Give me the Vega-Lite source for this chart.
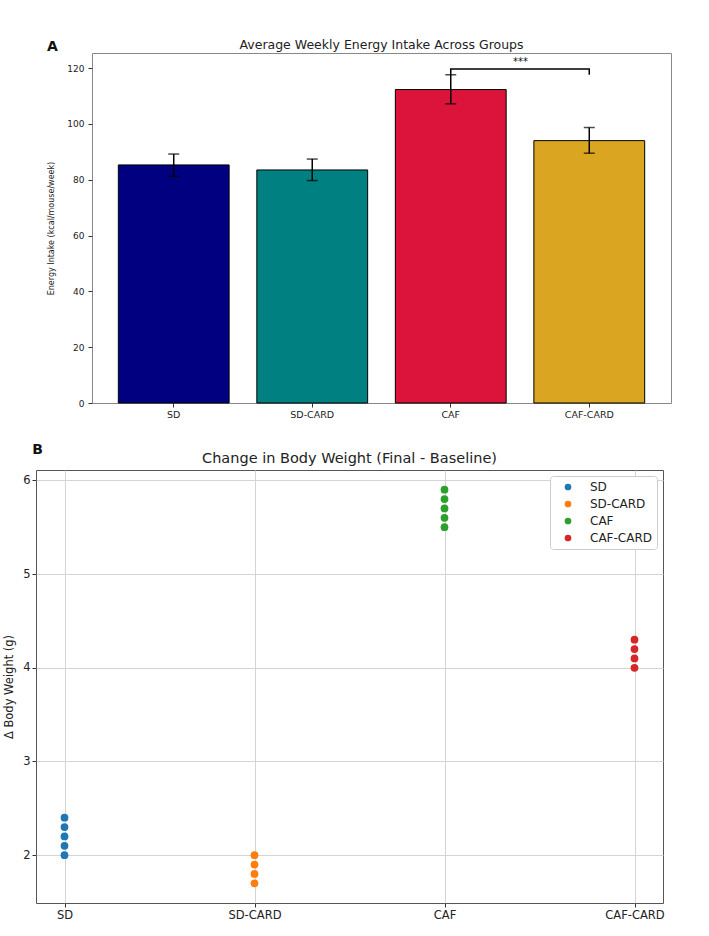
{
  "$schema": "https://vega.github.io/schema/vega-lite/v6.json",
  "background": "white",
  "padding": {"left": 3, "top": 38, "right": 10, "bottom": 10},
  "spacing": 24,
  "columns": 1,
  "align": "none",
  "resolve": {"scale": {"color": "independent"}, "legend": {"color": "independent"}},
  "config": {
    "font": "DejaVu Sans",
    "view": {"stroke": "#555", "strokeWidth": 1},
    "axis": {"domain": false, "tickColor": "#333", "tickSize": 4, "labelColor": "#222", "titleColor": "#222", "titleFontWeight": "normal", "gridColor": "#d4d4d4", "gridWidth": 1, "labelPadding": 2},
    "title": {"color": "#222", "fontWeight": "normal"}
  },
  "concat": [
    {
      "title": {"text": "A", "anchor": "start", "fontSize": 14, "fontWeight": "bold", "color": "#111", "dx": 11, "dy": 16, "offset": 0},
      "resolve": {"scale": {"color": "independent"}, "legend": {"color": "independent"}},
      "spacing": 0,
      "hconcat": [
        {
          "width": 11,
          "height": 1,
          "view": {"stroke": null},
          "data": {"values": []},
          "mark": {"type": "point", "opacity": 0},
          "encoding": {}
        },
        {
          "width": 579,
          "height": 350,
          "view": {"stroke": "#888"},
          "title": {"text": "Average Weekly Energy Intake Across Groups", "fontSize": 12.5, "offset": 2},
          "data": {"values": [
            {"group": "SD", "intake": 85.3, "lo": 81.2, "hi": 89.2},
            {"group": "SD-CARD", "intake": 83.5, "lo": 79.7, "hi": 87.4},
            {"group": "CAF", "intake": 112.3, "lo": 107.2, "hi": 117.6},
            {"group": "CAF-CARD", "intake": 94.0, "lo": 89.5, "hi": 98.7}
          ]},
          "encoding": {
            "x": {"field": "group", "type": "nominal", "sort": null,
              "scale": {"domain": ["SD", "SD-CARD", "CAF", "CAF-CARD"], "paddingInner": 0.2, "paddingOuter": 0.19},
              "axis": {"title": null, "labelAngle": 0, "labelFontSize": 9.5}}
          },
          "layer": [
            {
              "mark": {"type": "bar", "stroke": "black", "strokeWidth": 1},
              "encoding": {
                "y": {"field": "intake", "type": "quantitative", "scale": {"domain": [0, 125.4], "nice": false},
                  "axis": {"values": [0, 20, 40, 60, 80, 100, 120], "title": "Energy Intake (kcal/mouse/week)", "titleFontSize": 8, "labelFontSize": 9, "labelPadding": 4, "titlePadding": 11, "grid": false}},
                "color": {"field": "group", "type": "nominal",
                  "scale": {"domain": ["SD", "SD-CARD", "CAF", "CAF-CARD"], "range": ["#000080", "#008080", "#DC143C", "#DAA520"]},
                  "legend": null}
              }
            },
            {
              "mark": {"type": "rule", "color": "black", "strokeWidth": 1.5},
              "encoding": {"y": {"field": "lo", "type": "quantitative"}, "y2": {"field": "hi"}}
            },
            {
              "mark": {"type": "tick", "color": "black", "size": 11, "thickness": 1.5},
              "encoding": {"y": {"field": "lo", "type": "quantitative"}}
            },
            {
              "mark": {"type": "tick", "color": "black", "size": 11, "thickness": 1.5},
              "encoding": {"y": {"field": "hi", "type": "quantitative"}}
            },
            {
              "data": {"values": [
                {"group": "CAF", "y": 117.6, "order": 1},
                {"group": "CAF", "y": 119.7, "order": 2},
                {"group": "CAF-CARD", "y": 119.7, "order": 3},
                {"group": "CAF-CARD", "y": 117.6, "order": 4}
              ]},
              "mark": {"type": "line", "color": "black", "strokeWidth": 1.5},
              "encoding": {"y": {"field": "y", "type": "quantitative"}, "order": {"field": "order", "type": "quantitative"}}
            },
            {
              "data": {"values": [{"group": "CAF", "y": 120.3, "label": "***"}]},
              "mark": {"type": "text", "fontSize": 10, "baseline": "bottom", "color": "#111"},
              "encoding": {
                "x": {"field": "group", "type": "nominal", "bandPosition": 1.13},
                "y": {"field": "y", "type": "quantitative"},
                "text": {"field": "label"}
              }
            }
          ]
        }
      ]
    },
    {
      "title": {"text": "B", "anchor": "start", "fontSize": 14, "fontWeight": "bold", "color": "#111", "dx": 29, "dy": 7, "offset": 0},
      "resolve": {"scale": {"color": "independent"}, "legend": {"color": "independent"}},
      "vconcat": [
        {
          "width": 627,
          "height": 433,
          "view": {"stroke": "#555"},
          "title": {"text": "Change in Body Weight (Final - Baseline)", "fontSize": 14.5, "offset": 4},
          "data": {"values": [
            {"group": "SD", "dw": 2.0}, {"group": "SD", "dw": 2.1}, {"group": "SD", "dw": 2.2}, {"group": "SD", "dw": 2.3}, {"group": "SD", "dw": 2.4},
            {"group": "SD-CARD", "dw": 1.7}, {"group": "SD-CARD", "dw": 1.8}, {"group": "SD-CARD", "dw": 1.9}, {"group": "SD-CARD", "dw": 2.0},
            {"group": "CAF", "dw": 5.5}, {"group": "CAF", "dw": 5.6}, {"group": "CAF", "dw": 5.7}, {"group": "CAF", "dw": 5.8}, {"group": "CAF", "dw": 5.9},
            {"group": "CAF-CARD", "dw": 4.0}, {"group": "CAF-CARD", "dw": 4.1}, {"group": "CAF-CARD", "dw": 4.2}, {"group": "CAF-CARD", "dw": 4.3}
          ]},
          "mark": {"type": "circle", "size": 60, "opacity": 1},
          "encoding": {
            "x": {"field": "group", "type": "nominal",
              "scale": {"type": "point", "padding": 0.15, "domain": ["SD", "SD-CARD", "CAF", "CAF-CARD"]},
              "axis": {"title": null, "labelAngle": 0, "labelFontSize": 11.5, "grid": true}},
            "y": {"field": "dw", "type": "quantitative",
              "scale": {"domain": [1.49, 6.11], "nice": false, "zero": false},
              "axis": {"values": [2, 3, 4, 5, 6], "title": "Δ Body Weight (g)", "titleFontSize": 11.5, "labelFontSize": 11.5, "titlePadding": 8, "grid": true}},
            "color": {"field": "group", "type": "nominal",
              "scale": {"domain": ["SD", "SD-CARD", "CAF", "CAF-CARD"], "range": ["#1f77b4", "#ff7f0e", "#2ca02c", "#d62728"]},
              "legend": {"title": null, "orient": "top-right", "offset": 6, "padding": 5, "fillColor": "white", "strokeColor": "#cccccc", "cornerRadius": 3, "labelFontSize": 12, "labelColor": "#222", "symbolType": "circle", "symbolSize": 45, "symbolOffset": 7, "labelOffset": 16, "rowPadding": 5}}
          }
        }
      ]
    }
  ]
}
